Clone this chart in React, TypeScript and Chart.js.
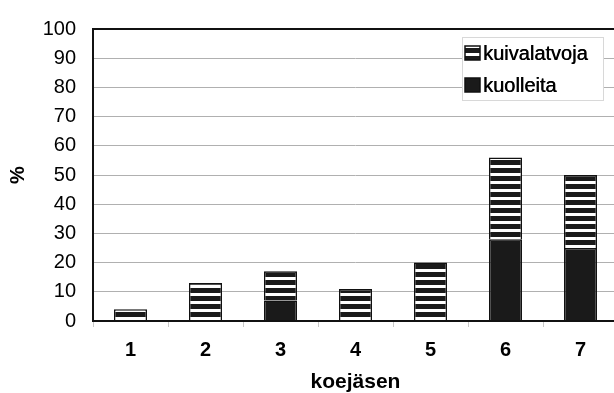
import React, { useEffect, useRef } from 'react';
import { Chart, registerables } from 'chart.js';

Chart.register(...registerables);

const categories = ['1', '2', '3', '4', '5', '6', '7'];
const kuolleita = [0, 0, 7, 0, 0, 28, 25];
const kuivalatvoja = [4, 13, 10, 11, 20, 28, 25];
const seriesLabels = ['kuivalatvoja', 'kuolleita'];
const yTitle = '%';
const xTitle = 'koejäsen';

const FONT = '"Liberation Sans", Arial, sans-serif';

function makeStripes(): CanvasPattern | string {
  const c = document.createElement('canvas');
  c.width = 8;
  c.height = 8;
  const ctx = c.getContext('2d');
  if (!ctx) return '#222';
  ctx.fillStyle = '#1a1a1a';
  ctx.fillRect(0, 0, 8, 8);
  ctx.fillStyle = '#ffffff';
  ctx.fillRect(0, 5, 8, 3);
  const p = ctx.createPattern(c, 'repeat');
  return p || '#222';
}

export default function App() {
  const ref = useRef<HTMLCanvasElement | null>(null);

  useEffect(() => {
    if (!ref.current) return;
    const stripes = makeStripes();

    const frame = {
      id: 'frame',
      afterDatasetsDraw(chart: any) {
        const { ctx, chartArea } = chart;
        const { left, top, right, bottom } = chartArea;
        ctx.save();
        ctx.strokeStyle = '#111';
        ctx.lineWidth = 2;
        ctx.beginPath();
        ctx.moveTo(right + 5, top);
        ctx.lineTo(left, top);
        ctx.lineTo(left, bottom);
        ctx.lineTo(right + 5, bottom);
        ctx.stroke();
        ctx.restore();
      },
    };

    const legendBox = {
      id: 'legendBox',
      afterDraw(chart: any) {
        const { ctx, chartArea } = chart;
        const x = chartArea.left + 369;
        const y = chartArea.top + 8;
        const w = 141;
        const h = 63;
        ctx.save();
        ctx.fillStyle = '#fff';
        ctx.fillRect(x, y, w, h);
        ctx.strokeStyle = '#d8d8d8';
        ctx.lineWidth = 1;
        ctx.strokeRect(x + 0.5, y + 0.5, w, h);
        const fills = [stripes, '#1a1a1a'];
        ctx.font = '20px ' + FONT;
        ctx.textBaseline = 'middle';
        seriesLabels.forEach((lab, i) => {
          const cy = y + 16 + i * 32;
          ctx.fillStyle = fills[i] as any;
          ctx.fillRect(x + 3, cy - 7, 15, 14);
          ctx.strokeStyle = '#111';
          ctx.lineWidth = 1.5;
          ctx.strokeRect(x + 3, cy - 7, 15, 14);
          ctx.fillStyle = '#000';
          ctx.fillText(lab, x + 21, cy + 1);
          ctx.fillText(lab, x + 21.5, cy + 1);
        });
        ctx.restore();
      },
    };

    const chart = new Chart(ref.current, {
      type: 'bar',
      data: {
        labels: categories,
        datasets: [
          {
            label: seriesLabels[1],
            data: kuolleita,
            backgroundColor: '#1a1a1a',
            borderColor: '#111',
            borderWidth: 1.5,
            barPercentage: 0.44,
            categoryPercentage: 1,
          },
          {
            label: seriesLabels[0],
            data: kuivalatvoja,
            backgroundColor: stripes as any,
            borderColor: '#111',
            borderWidth: 1.5,
            barPercentage: 0.44,
            categoryPercentage: 1,
          },
        ],
      },
      options: {
        responsive: false,
        maintainAspectRatio: false,
        animation: false,
        layout: { padding: { left: 0, top: 22, right: 22, bottom: 0 } },
        plugins: {
          legend: { display: false },
          tooltip: { enabled: false },
        },
        scales: {
          x: {
            stacked: true,
            grid: {
              offset: true,
              drawOnChartArea: false,
              drawTicks: true,
              tickLength: 6,
              color: '#c8c8c8',
            },
            border: { display: false },
            ticks: {
              color: '#000',
              padding: 11,
              font: { family: FONT, size: 20, weight: 'bold' },
            },
            title: {
              display: true,
              text: xTitle,
              color: '#000',
              padding: { top: 0, bottom: 0 },
              font: { family: FONT, size: 21, weight: 'bold', lineHeight: 1 },
            },
            afterFit: (s: any) => {
              s.height = 72;
            },
          },
          y: {
            stacked: true,
            min: 0,
            max: 100,
            ticks: {
              stepSize: 10,
              color: '#000',
              padding: 17,
              font: { family: FONT, size: 20 },
            },
            grid: { color: '#b0b0b0', lineWidth: 1, drawTicks: false },
            border: { display: false },
            title: {
              display: true,
              text: yTitle,
              color: '#000',
              padding: { top: 6, bottom: 0 },
              font: { family: FONT, size: 20, weight: 'bold' },
            },
            afterFit: (s: any) => {
              s.width = 93;
            },
          },
        },
      },
      plugins: [frame, legendBox],
    });

    return () => chart.destroy();
  }, []);

  return (
    <div
      style={{
        position: 'absolute',
        left: 0,
        top: 0,
        width: 614,
        height: 393,
        overflow: 'hidden',
        background: '#fff',
      }}
    >
      <canvas ref={ref} width={640} height={393} style={{ display: 'block' }} />
    </div>
  );
}
